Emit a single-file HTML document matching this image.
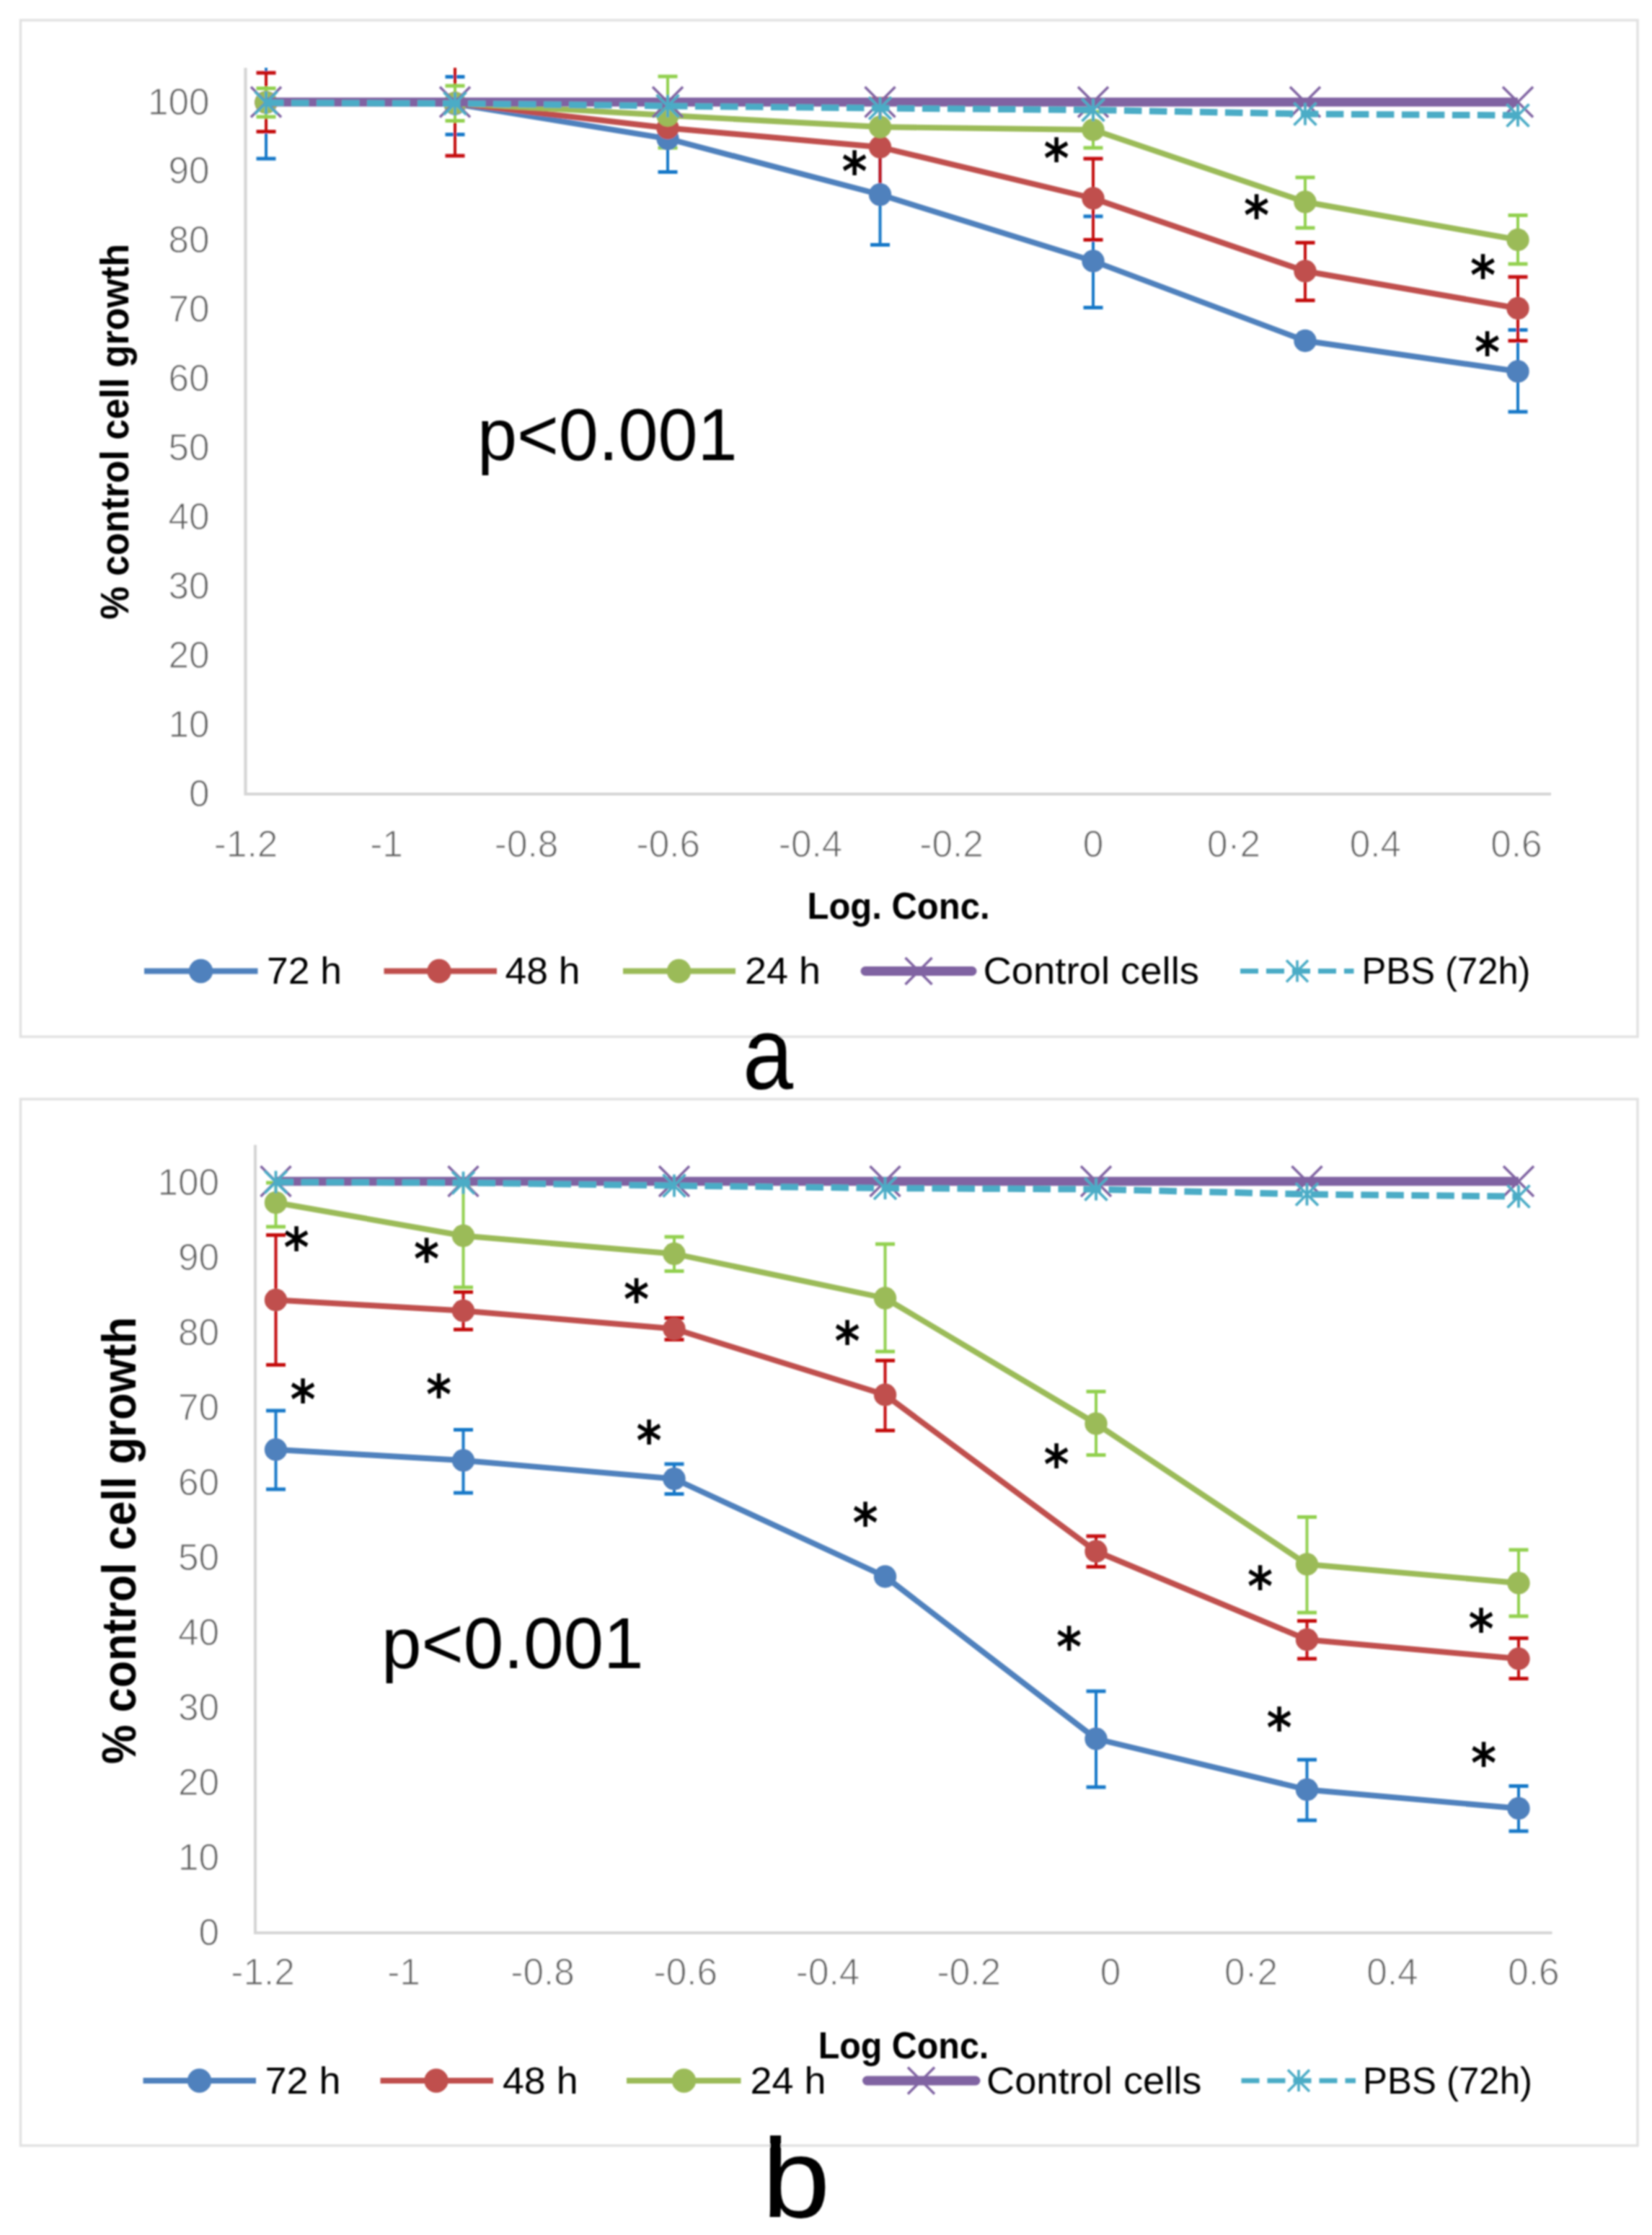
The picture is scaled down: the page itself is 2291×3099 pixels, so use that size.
<!DOCTYPE html>
<html><head><meta charset="utf-8"><title>Figure</title>
<style>html,body{margin:0;padding:0;background:#fff}svg{display:block}</style></head>
<body>
<svg width="2291" height="3099" viewBox="0 0 2291 3099">
<defs><filter id="softa" x="0" y="0" width="2291" height="1520" filterUnits="userSpaceOnUse"><feGaussianBlur stdDeviation="1"/></filter><filter id="softb" x="0" y="1520" width="2291" height="1579" filterUnits="userSpaceOnUse"><feGaussianBlur stdDeviation="1"/></filter></defs>
<rect width="2291" height="3099" fill="#fff"/>
<g id="chart-a" filter="url(#softa)">
<rect x="28.5" y="28" width="2242.5" height="1409.5" fill="none" stroke="#e2e2e2" stroke-width="3.5"/>
<path d="M340.5 94V1101H2151" fill="none" stroke="#d5d5d5" stroke-width="4.2"/>
<path d="M369 94V220" stroke="#1478c8" stroke-width="4" fill="none"/>
<path d="M355.5 220H382.5" stroke="#1478c8" stroke-width="5" fill="none"/>
<path d="M631 106.5V186.5" stroke="#1478c8" stroke-width="4" fill="none"/>
<path d="M617.5 106.5H644.5" stroke="#1478c8" stroke-width="5" fill="none"/>
<path d="M617.5 186.5H644.5" stroke="#1478c8" stroke-width="5" fill="none"/>
<path d="M926 147.5V238.5" stroke="#1478c8" stroke-width="4" fill="none"/>
<path d="M912.5 147.5H939.5" stroke="#1478c8" stroke-width="5" fill="none"/>
<path d="M912.5 238.5H939.5" stroke="#1478c8" stroke-width="5" fill="none"/>
<path d="M1220.5 201V339.5" stroke="#1478c8" stroke-width="4" fill="none"/>
<path d="M1207.0 201H1234.0" stroke="#1478c8" stroke-width="5" fill="none"/>
<path d="M1207.0 339.5H1234.0" stroke="#1478c8" stroke-width="5" fill="none"/>
<path d="M1516 300V426.5" stroke="#1478c8" stroke-width="4" fill="none"/>
<path d="M1502.5 300H1529.5" stroke="#1478c8" stroke-width="5" fill="none"/>
<path d="M1502.5 426.5H1529.5" stroke="#1478c8" stroke-width="5" fill="none"/>
<path d="M2105 457.5V571" stroke="#1478c8" stroke-width="4" fill="none"/>
<path d="M2091.5 457.5H2118.5" stroke="#1478c8" stroke-width="5" fill="none"/>
<path d="M2091.5 571H2118.5" stroke="#1478c8" stroke-width="5" fill="none"/>
<path d="M369 101V182.5" stroke="#c4080e" stroke-width="4" fill="none"/>
<path d="M355.5 101H382.5" stroke="#c4080e" stroke-width="5" fill="none"/>
<path d="M355.5 182.5H382.5" stroke="#c4080e" stroke-width="5" fill="none"/>
<path d="M631 94V216" stroke="#c4080e" stroke-width="4" fill="none"/>
<path d="M617.5 216H644.5" stroke="#c4080e" stroke-width="5" fill="none"/>
<path d="M1220.5 137V271" stroke="#c4080e" stroke-width="4" fill="none"/>
<path d="M1207.0 137H1234.0" stroke="#c4080e" stroke-width="5" fill="none"/>
<path d="M1207.0 271H1234.0" stroke="#c4080e" stroke-width="5" fill="none"/>
<path d="M1516 220V332.5" stroke="#c4080e" stroke-width="4" fill="none"/>
<path d="M1502.5 220H1529.5" stroke="#c4080e" stroke-width="5" fill="none"/>
<path d="M1502.5 332.5H1529.5" stroke="#c4080e" stroke-width="5" fill="none"/>
<path d="M1810 336.5V416.5" stroke="#c4080e" stroke-width="4" fill="none"/>
<path d="M1796.5 336.5H1823.5" stroke="#c4080e" stroke-width="5" fill="none"/>
<path d="M1796.5 416.5H1823.5" stroke="#c4080e" stroke-width="5" fill="none"/>
<path d="M2105 384V472.5" stroke="#c4080e" stroke-width="4" fill="none"/>
<path d="M2091.5 384H2118.5" stroke="#c4080e" stroke-width="5" fill="none"/>
<path d="M2091.5 472.5H2118.5" stroke="#c4080e" stroke-width="5" fill="none"/>
<path d="M369 122.5V162" stroke="#92d050" stroke-width="4" fill="none"/>
<path d="M355.5 122.5H382.5" stroke="#92d050" stroke-width="5" fill="none"/>
<path d="M355.5 162H382.5" stroke="#92d050" stroke-width="5" fill="none"/>
<path d="M631 119V167.5" stroke="#92d050" stroke-width="4" fill="none"/>
<path d="M617.5 119H644.5" stroke="#92d050" stroke-width="5" fill="none"/>
<path d="M617.5 167.5H644.5" stroke="#92d050" stroke-width="5" fill="none"/>
<path d="M926 106V205" stroke="#92d050" stroke-width="4" fill="none"/>
<path d="M912.5 106H939.5" stroke="#92d050" stroke-width="5" fill="none"/>
<path d="M912.5 205H939.5" stroke="#92d050" stroke-width="5" fill="none"/>
<path d="M1516 155V205" stroke="#92d050" stroke-width="4" fill="none"/>
<path d="M1502.5 155H1529.5" stroke="#92d050" stroke-width="5" fill="none"/>
<path d="M1502.5 205H1529.5" stroke="#92d050" stroke-width="5" fill="none"/>
<path d="M1810 246V316" stroke="#92d050" stroke-width="4" fill="none"/>
<path d="M1796.5 246H1823.5" stroke="#92d050" stroke-width="5" fill="none"/>
<path d="M1796.5 316H1823.5" stroke="#92d050" stroke-width="5" fill="none"/>
<path d="M2105 298.5V366" stroke="#92d050" stroke-width="4" fill="none"/>
<path d="M2091.5 298.5H2118.5" stroke="#92d050" stroke-width="5" fill="none"/>
<path d="M2091.5 366H2118.5" stroke="#92d050" stroke-width="5" fill="none"/>
<polyline points="369,142 631,144 926,192.3 1220.5,269.8 1516,362 1810,472.5 2105,515" fill="none" stroke="#4f81bd" stroke-width="7.9" stroke-linejoin="round" stroke-linecap="round"/>
<circle cx="369" cy="142" r="15.7" fill="#4f81bd"/>
<circle cx="631" cy="144" r="15.7" fill="#4f81bd"/>
<circle cx="926" cy="192.3" r="15.7" fill="#4f81bd"/>
<circle cx="1220.5" cy="269.8" r="15.7" fill="#4f81bd"/>
<circle cx="1516" cy="362" r="15.7" fill="#4f81bd"/>
<circle cx="1810" cy="472.5" r="15.7" fill="#4f81bd"/>
<circle cx="2105" cy="515" r="15.7" fill="#4f81bd"/>
<polyline points="369,142 631,143 926,177.5 1220.5,204 1516,275 1810,376 2105,427.5" fill="none" stroke="#c0504d" stroke-width="7.9" stroke-linejoin="round" stroke-linecap="round"/>
<circle cx="369" cy="142" r="15.7" fill="#c0504d"/>
<circle cx="631" cy="143" r="15.7" fill="#c0504d"/>
<circle cx="926" cy="177.5" r="15.7" fill="#c0504d"/>
<circle cx="1220.5" cy="204" r="15.7" fill="#c0504d"/>
<circle cx="1516" cy="275" r="15.7" fill="#c0504d"/>
<circle cx="1810" cy="376" r="15.7" fill="#c0504d"/>
<circle cx="2105" cy="427.5" r="15.7" fill="#c0504d"/>
<polyline points="369,142 631,143 926,160 1220.5,176 1516,180 1810,280 2105,332.5" fill="none" stroke="#9bbb59" stroke-width="7.9" stroke-linejoin="round" stroke-linecap="round"/>
<circle cx="369" cy="142" r="15.7" fill="#9bbb59"/>
<circle cx="631" cy="143" r="15.7" fill="#9bbb59"/>
<circle cx="926" cy="160" r="15.7" fill="#9bbb59"/>
<circle cx="1220.5" cy="176" r="15.7" fill="#9bbb59"/>
<circle cx="1516" cy="180" r="15.7" fill="#9bbb59"/>
<circle cx="1810" cy="280" r="15.7" fill="#9bbb59"/>
<circle cx="2105" cy="332.5" r="15.7" fill="#9bbb59"/>
<path d="M369 141.5H2105" stroke="#8064a2" stroke-width="12.5" fill="none"/>
<path d="M348 120.5L390 162.5M348 162.5L390 120.5" stroke="#8064a2" stroke-width="3.5" fill="none"/>
<path d="M610 120.5L652 162.5M610 162.5L652 120.5" stroke="#8064a2" stroke-width="3.5" fill="none"/>
<path d="M905 120.5L947 162.5M905 162.5L947 120.5" stroke="#8064a2" stroke-width="3.5" fill="none"/>
<path d="M1199.5 120.5L1241.5 162.5M1199.5 162.5L1241.5 120.5" stroke="#8064a2" stroke-width="3.5" fill="none"/>
<path d="M1495 120.5L1537 162.5M1495 162.5L1537 120.5" stroke="#8064a2" stroke-width="3.5" fill="none"/>
<path d="M1789 120.5L1831 162.5M1789 162.5L1831 120.5" stroke="#8064a2" stroke-width="3.5" fill="none"/>
<path d="M2084 120.5L2126 162.5M2084 162.5L2126 120.5" stroke="#8064a2" stroke-width="3.5" fill="none"/>
<polyline points="369,142.5 631,143.5 926,147 1220.5,150 1516,152.5 1810,158 2105,160" fill="none" stroke="#4bacc6" stroke-width="9" stroke-dasharray="24.5 10.5"/>
<path d="M353.5 127.0L384.5 158.0M353.5 158.0L384.5 127.0M369 127.0V158.0" stroke="#4bacc6" stroke-width="3.8" fill="none"/>
<path d="M615.5 128.0L646.5 159.0M615.5 159.0L646.5 128.0M631 128.0V159.0" stroke="#4bacc6" stroke-width="3.8" fill="none"/>
<path d="M910.5 131.5L941.5 162.5M910.5 162.5L941.5 131.5M926 131.5V162.5" stroke="#4bacc6" stroke-width="3.8" fill="none"/>
<path d="M1205.0 134.5L1236.0 165.5M1205.0 165.5L1236.0 134.5M1220.5 134.5V165.5" stroke="#4bacc6" stroke-width="3.8" fill="none"/>
<path d="M1500.5 137.0L1531.5 168.0M1500.5 168.0L1531.5 137.0M1516 137.0V168.0" stroke="#4bacc6" stroke-width="3.8" fill="none"/>
<path d="M1794.5 142.5L1825.5 173.5M1794.5 173.5L1825.5 142.5M1810 142.5V173.5" stroke="#4bacc6" stroke-width="3.8" fill="none"/>
<path d="M2089.5 144.5L2120.5 175.5M2089.5 175.5L2120.5 144.5M2105 144.5V175.5" stroke="#4bacc6" stroke-width="3.8" fill="none"/>
<text x="290.5" y="1117.5" font-family="'Liberation Sans', sans-serif" font-size="51.3" font-weight="normal" fill="#626262" text-anchor="end" stroke="#fff" stroke-width="0.9">0</text>
<text x="290.5" y="1021.6" font-family="'Liberation Sans', sans-serif" font-size="51.3" font-weight="normal" fill="#626262" text-anchor="end" stroke="#fff" stroke-width="0.9">10</text>
<text x="290.5" y="925.7" font-family="'Liberation Sans', sans-serif" font-size="51.3" font-weight="normal" fill="#626262" text-anchor="end" stroke="#fff" stroke-width="0.9">20</text>
<text x="290.5" y="829.8" font-family="'Liberation Sans', sans-serif" font-size="51.3" font-weight="normal" fill="#626262" text-anchor="end" stroke="#fff" stroke-width="0.9">30</text>
<text x="290.5" y="733.9" font-family="'Liberation Sans', sans-serif" font-size="51.3" font-weight="normal" fill="#626262" text-anchor="end" stroke="#fff" stroke-width="0.9">40</text>
<text x="290.5" y="638.0" font-family="'Liberation Sans', sans-serif" font-size="51.3" font-weight="normal" fill="#626262" text-anchor="end" stroke="#fff" stroke-width="0.9">50</text>
<text x="290.5" y="542.0999999999999" font-family="'Liberation Sans', sans-serif" font-size="51.3" font-weight="normal" fill="#626262" text-anchor="end" stroke="#fff" stroke-width="0.9">60</text>
<text x="290.5" y="446.19999999999993" font-family="'Liberation Sans', sans-serif" font-size="51.3" font-weight="normal" fill="#626262" text-anchor="end" stroke="#fff" stroke-width="0.9">70</text>
<text x="290.5" y="350.29999999999995" font-family="'Liberation Sans', sans-serif" font-size="51.3" font-weight="normal" fill="#626262" text-anchor="end" stroke="#fff" stroke-width="0.9">80</text>
<text x="290.5" y="254.39999999999998" font-family="'Liberation Sans', sans-serif" font-size="51.3" font-weight="normal" fill="#626262" text-anchor="end" stroke="#fff" stroke-width="0.9">90</text>
<text x="290.5" y="158.5" font-family="'Liberation Sans', sans-serif" font-size="51.3" font-weight="normal" fill="#626262" text-anchor="end" stroke="#fff" stroke-width="0.9">100</text>
<text x="341" y="1188" font-family="'Liberation Sans', sans-serif" font-size="51.3" font-weight="normal" fill="#626262" text-anchor="middle" stroke="#fff" stroke-width="0.9">-1.2</text>
<text x="536" y="1188" font-family="'Liberation Sans', sans-serif" font-size="51.3" font-weight="normal" fill="#626262" text-anchor="middle" stroke="#fff" stroke-width="0.9">-1</text>
<text x="730" y="1188" font-family="'Liberation Sans', sans-serif" font-size="51.3" font-weight="normal" fill="#626262" text-anchor="middle" stroke="#fff" stroke-width="0.9">-0.8</text>
<text x="926.75" y="1188" font-family="'Liberation Sans', sans-serif" font-size="51.3" font-weight="normal" fill="#626262" text-anchor="middle" stroke="#fff" stroke-width="0.9">-0.6</text>
<text x="1124" y="1188" font-family="'Liberation Sans', sans-serif" font-size="51.3" font-weight="normal" fill="#626262" text-anchor="middle" stroke="#fff" stroke-width="0.9">-0.4</text>
<text x="1319.5" y="1188" font-family="'Liberation Sans', sans-serif" font-size="51.3" font-weight="normal" fill="#626262" text-anchor="middle" stroke="#fff" stroke-width="0.9">-0.2</text>
<text x="1516" y="1188" font-family="'Liberation Sans', sans-serif" font-size="51.3" font-weight="normal" fill="#626262" text-anchor="middle" stroke="#fff" stroke-width="0.9">0</text>
<text x="1711" y="1188" font-family="'Liberation Sans', sans-serif" font-size="51.3" font-weight="normal" fill="#626262" text-anchor="middle" stroke="#fff" stroke-width="0.9">0·2</text>
<text x="1907.5" y="1188" font-family="'Liberation Sans', sans-serif" font-size="51.3" font-weight="normal" fill="#626262" text-anchor="middle" stroke="#fff" stroke-width="0.9">0.4</text>
<text x="2103" y="1188" font-family="'Liberation Sans', sans-serif" font-size="51.3" font-weight="normal" fill="#626262" text-anchor="middle" stroke="#fff" stroke-width="0.9">0.6</text>
<text x="1246" y="1274" font-family="'Liberation Sans', sans-serif" font-size="51.5" font-weight="bold" fill="#000" text-anchor="middle" textLength="253" lengthAdjust="spacingAndGlyphs">Log. Conc.</text>
<text transform="translate(177.5 598.5) rotate(-90)" font-family="'Liberation Sans', sans-serif" font-size="56" font-weight="bold" text-anchor="middle" textLength="521" lengthAdjust="spacingAndGlyphs" fill="#000">% control cell growth</text>
<text x="662" y="637.5" font-family="'Liberation Sans', sans-serif" font-size="102" font-weight="normal" fill="#000" text-anchor="start" textLength="360.6" lengthAdjust="spacingAndGlyphs">p&lt;0.001</text>
<text transform="translate(1185 227) scale(1.05 1.16)" x="0" y="32" font-family="'DejaVu Sans', sans-serif" font-size="64" font-weight="bold" text-anchor="middle" fill="#000">*</text>
<text transform="translate(1465 208.5) scale(1.05 1.16)" x="0" y="32" font-family="'DejaVu Sans', sans-serif" font-size="64" font-weight="bold" text-anchor="middle" fill="#000">*</text>
<text transform="translate(1742.5 287.5) scale(1.05 1.16)" x="0" y="32" font-family="'DejaVu Sans', sans-serif" font-size="64" font-weight="bold" text-anchor="middle" fill="#000">*</text>
<text transform="translate(2056.5 371) scale(1.05 1.16)" x="0" y="32" font-family="'DejaVu Sans', sans-serif" font-size="64" font-weight="bold" text-anchor="middle" fill="#000">*</text>
<text transform="translate(2062.5 477.5) scale(1.05 1.16)" x="0" y="32" font-family="'DejaVu Sans', sans-serif" font-size="64" font-weight="bold" text-anchor="middle" fill="#000">*</text>
<path d="M200 1346.5H357.5" stroke="#4f81bd" stroke-width="8" fill="none"/>
<circle cx="278.5" cy="1346.5" r="16.7" fill="#4f81bd"/>
<text x="370" y="1364" font-family="'Liberation Sans', sans-serif" font-size="51" font-weight="normal" fill="#000" text-anchor="start" textLength="104" lengthAdjust="spacingAndGlyphs">72 h</text>
<path d="M532.5 1346.5H689" stroke="#c0504d" stroke-width="8" fill="none"/>
<circle cx="609" cy="1346.5" r="16.7" fill="#c0504d"/>
<text x="700.5" y="1364" font-family="'Liberation Sans', sans-serif" font-size="51" font-weight="normal" fill="#000" text-anchor="start" textLength="104" lengthAdjust="spacingAndGlyphs">48 h</text>
<path d="M864 1346.5H1020" stroke="#9bbb59" stroke-width="8" fill="none"/>
<circle cx="941.5" cy="1346.5" r="16.7" fill="#9bbb59"/>
<text x="1033" y="1364" font-family="'Liberation Sans', sans-serif" font-size="51" font-weight="normal" fill="#000" text-anchor="start" textLength="105" lengthAdjust="spacingAndGlyphs">24 h</text>
<path d="M1200 1346.5H1348" stroke="#8064a2" stroke-width="13" stroke-linecap="round" fill="none"/>
<path d="M1255.5 1328.0L1292.5 1365.0M1255.5 1365.0L1292.5 1328.0" stroke="#8064a2" stroke-width="3.5" fill="none"/>
<text x="1363.5" y="1364" font-family="'Liberation Sans', sans-serif" font-size="51" font-weight="normal" fill="#000" text-anchor="start" textLength="299.5" lengthAdjust="spacingAndGlyphs">Control cells</text>
<path d="M1720 1346.5H1877.5" stroke="#4bacc6" stroke-width="7" stroke-dasharray="25 11" fill="none"/>
<path d="M1784 1331.5L1814 1361.5M1784 1361.5L1814 1331.5M1799 1331.5V1361.5" stroke="#4bacc6" stroke-width="3.6" fill="none"/>
<text x="1888.5" y="1364" font-family="'Liberation Sans', sans-serif" font-size="51" font-weight="normal" fill="#000" text-anchor="start" textLength="234" lengthAdjust="spacingAndGlyphs">PBS (72h)</text>
<text x="1065" y="1510" font-family="'Liberation Sans', sans-serif" font-size="143" font-weight="normal" fill="#000" text-anchor="middle" textLength="70" lengthAdjust="spacingAndGlyphs">a</text>
</g>
<g id="chart-b" filter="url(#softb)">
<rect x="28.5" y="1524" width="2242.5" height="1451" fill="none" stroke="#e2e2e2" stroke-width="3.5"/>
<path d="M354 1587.5V2680H2152.5" fill="none" stroke="#d5d5d5" stroke-width="4.2"/>
<path d="M382.5 1956V2065" stroke="#1478c8" stroke-width="4" fill="none"/>
<path d="M369.0 1956H396.0" stroke="#1478c8" stroke-width="5" fill="none"/>
<path d="M369.0 2065H396.0" stroke="#1478c8" stroke-width="5" fill="none"/>
<path d="M642.5 1982.5V2070" stroke="#1478c8" stroke-width="4" fill="none"/>
<path d="M629.0 1982.5H656.0" stroke="#1478c8" stroke-width="5" fill="none"/>
<path d="M629.0 2070H656.0" stroke="#1478c8" stroke-width="5" fill="none"/>
<path d="M935 2030V2071.5" stroke="#1478c8" stroke-width="4" fill="none"/>
<path d="M921.5 2030H948.5" stroke="#1478c8" stroke-width="5" fill="none"/>
<path d="M921.5 2071.5H948.5" stroke="#1478c8" stroke-width="5" fill="none"/>
<path d="M1520 2345V2478" stroke="#1478c8" stroke-width="4" fill="none"/>
<path d="M1506.5 2345H1533.5" stroke="#1478c8" stroke-width="5" fill="none"/>
<path d="M1506.5 2478H1533.5" stroke="#1478c8" stroke-width="5" fill="none"/>
<path d="M1812.5 2440V2524" stroke="#1478c8" stroke-width="4" fill="none"/>
<path d="M1799.0 2440H1826.0" stroke="#1478c8" stroke-width="5" fill="none"/>
<path d="M1799.0 2524H1826.0" stroke="#1478c8" stroke-width="5" fill="none"/>
<path d="M2106 2476.5V2539" stroke="#1478c8" stroke-width="4" fill="none"/>
<path d="M2092.5 2476.5H2119.5" stroke="#1478c8" stroke-width="5" fill="none"/>
<path d="M2092.5 2539H2119.5" stroke="#1478c8" stroke-width="5" fill="none"/>
<path d="M382.5 1712.5V1892.5" stroke="#c4080e" stroke-width="4" fill="none"/>
<path d="M369.0 1712.5H396.0" stroke="#c4080e" stroke-width="5" fill="none"/>
<path d="M369.0 1892.5H396.0" stroke="#c4080e" stroke-width="5" fill="none"/>
<path d="M642.5 1791.5V1843.5" stroke="#c4080e" stroke-width="4" fill="none"/>
<path d="M629.0 1791.5H656.0" stroke="#c4080e" stroke-width="5" fill="none"/>
<path d="M629.0 1843.5H656.0" stroke="#c4080e" stroke-width="5" fill="none"/>
<path d="M935 1827.5V1857.5" stroke="#c4080e" stroke-width="4" fill="none"/>
<path d="M921.5 1827.5H948.5" stroke="#c4080e" stroke-width="5" fill="none"/>
<path d="M921.5 1857.5H948.5" stroke="#c4080e" stroke-width="5" fill="none"/>
<path d="M1227.5 1886.5V1983.5" stroke="#c4080e" stroke-width="4" fill="none"/>
<path d="M1214.0 1886.5H1241.0" stroke="#c4080e" stroke-width="5" fill="none"/>
<path d="M1214.0 1983.5H1241.0" stroke="#c4080e" stroke-width="5" fill="none"/>
<path d="M1520 2130V2172.5" stroke="#c4080e" stroke-width="4" fill="none"/>
<path d="M1506.5 2130H1533.5" stroke="#c4080e" stroke-width="5" fill="none"/>
<path d="M1506.5 2172.5H1533.5" stroke="#c4080e" stroke-width="5" fill="none"/>
<path d="M1812.5 2247.5V2300" stroke="#c4080e" stroke-width="4" fill="none"/>
<path d="M1799.0 2247.5H1826.0" stroke="#c4080e" stroke-width="5" fill="none"/>
<path d="M1799.0 2300H1826.0" stroke="#c4080e" stroke-width="5" fill="none"/>
<path d="M2106 2271.5V2327.5" stroke="#c4080e" stroke-width="4" fill="none"/>
<path d="M2092.5 2271.5H2119.5" stroke="#c4080e" stroke-width="5" fill="none"/>
<path d="M2092.5 2327.5H2119.5" stroke="#c4080e" stroke-width="5" fill="none"/>
<path d="M382.5 1640V1701" stroke="#92d050" stroke-width="4" fill="none"/>
<path d="M369.0 1640H396.0" stroke="#92d050" stroke-width="5" fill="none"/>
<path d="M369.0 1701H396.0" stroke="#92d050" stroke-width="5" fill="none"/>
<path d="M642.5 1642V1785" stroke="#92d050" stroke-width="4" fill="none"/>
<path d="M629.0 1642H656.0" stroke="#92d050" stroke-width="5" fill="none"/>
<path d="M629.0 1785H656.0" stroke="#92d050" stroke-width="5" fill="none"/>
<path d="M935 1715V1762.5" stroke="#92d050" stroke-width="4" fill="none"/>
<path d="M921.5 1715H948.5" stroke="#92d050" stroke-width="5" fill="none"/>
<path d="M921.5 1762.5H948.5" stroke="#92d050" stroke-width="5" fill="none"/>
<path d="M1227.5 1725V1874" stroke="#92d050" stroke-width="4" fill="none"/>
<path d="M1214.0 1725H1241.0" stroke="#92d050" stroke-width="5" fill="none"/>
<path d="M1214.0 1874H1241.0" stroke="#92d050" stroke-width="5" fill="none"/>
<path d="M1520 1929.5V2017.5" stroke="#92d050" stroke-width="4" fill="none"/>
<path d="M1506.5 1929.5H1533.5" stroke="#92d050" stroke-width="5" fill="none"/>
<path d="M1506.5 2017.5H1533.5" stroke="#92d050" stroke-width="5" fill="none"/>
<path d="M1812.5 2103.5V2236" stroke="#92d050" stroke-width="4" fill="none"/>
<path d="M1799.0 2103.5H1826.0" stroke="#92d050" stroke-width="5" fill="none"/>
<path d="M1799.0 2236H1826.0" stroke="#92d050" stroke-width="5" fill="none"/>
<path d="M2106 2149V2241" stroke="#92d050" stroke-width="4" fill="none"/>
<path d="M2092.5 2149H2119.5" stroke="#92d050" stroke-width="5" fill="none"/>
<path d="M2092.5 2241H2119.5" stroke="#92d050" stroke-width="5" fill="none"/>
<polyline points="382.5,2010 642.5,2025 935,2050.5 1227.5,2186 1520,2411 1812.5,2481.5 2106,2507.5" fill="none" stroke="#4f81bd" stroke-width="7.9" stroke-linejoin="round" stroke-linecap="round"/>
<circle cx="382.5" cy="2010" r="15.7" fill="#4f81bd"/>
<circle cx="642.5" cy="2025" r="15.7" fill="#4f81bd"/>
<circle cx="935" cy="2050.5" r="15.7" fill="#4f81bd"/>
<circle cx="1227.5" cy="2186" r="15.7" fill="#4f81bd"/>
<circle cx="1520" cy="2411" r="15.7" fill="#4f81bd"/>
<circle cx="1812.5" cy="2481.5" r="15.7" fill="#4f81bd"/>
<circle cx="2106" cy="2507.5" r="15.7" fill="#4f81bd"/>
<polyline points="382.5,1802.5 642.5,1817.5 935,1842.5 1227.5,1934 1520,2151 1812.5,2273.5 2106,2300" fill="none" stroke="#c0504d" stroke-width="7.9" stroke-linejoin="round" stroke-linecap="round"/>
<circle cx="382.5" cy="1802.5" r="15.7" fill="#c0504d"/>
<circle cx="642.5" cy="1817.5" r="15.7" fill="#c0504d"/>
<circle cx="935" cy="1842.5" r="15.7" fill="#c0504d"/>
<circle cx="1227.5" cy="1934" r="15.7" fill="#c0504d"/>
<circle cx="1520" cy="2151" r="15.7" fill="#c0504d"/>
<circle cx="1812.5" cy="2273.5" r="15.7" fill="#c0504d"/>
<circle cx="2106" cy="2300" r="15.7" fill="#c0504d"/>
<polyline points="382.5,1667.5 642.5,1713.5 935,1738.5 1227.5,1800 1520,1974 1812.5,2169 2106,2195" fill="none" stroke="#9bbb59" stroke-width="7.9" stroke-linejoin="round" stroke-linecap="round"/>
<circle cx="382.5" cy="1667.5" r="15.7" fill="#9bbb59"/>
<circle cx="642.5" cy="1713.5" r="15.7" fill="#9bbb59"/>
<circle cx="935" cy="1738.5" r="15.7" fill="#9bbb59"/>
<circle cx="1227.5" cy="1800" r="15.7" fill="#9bbb59"/>
<circle cx="1520" cy="1974" r="15.7" fill="#9bbb59"/>
<circle cx="1812.5" cy="2169" r="15.7" fill="#9bbb59"/>
<circle cx="2106" cy="2195" r="15.7" fill="#9bbb59"/>
<path d="M382.5 1638H2106" stroke="#8064a2" stroke-width="12.5" fill="none"/>
<path d="M361.5 1617L403.5 1659M361.5 1659L403.5 1617" stroke="#8064a2" stroke-width="3.5" fill="none"/>
<path d="M621.5 1617L663.5 1659M621.5 1659L663.5 1617" stroke="#8064a2" stroke-width="3.5" fill="none"/>
<path d="M914 1617L956 1659M914 1659L956 1617" stroke="#8064a2" stroke-width="3.5" fill="none"/>
<path d="M1206.5 1617L1248.5 1659M1206.5 1659L1248.5 1617" stroke="#8064a2" stroke-width="3.5" fill="none"/>
<path d="M1499 1617L1541 1659M1499 1659L1541 1617" stroke="#8064a2" stroke-width="3.5" fill="none"/>
<path d="M1791.5 1617L1833.5 1659M1791.5 1659L1833.5 1617" stroke="#8064a2" stroke-width="3.5" fill="none"/>
<path d="M2085 1617L2127 1659M2085 1659L2127 1617" stroke="#8064a2" stroke-width="3.5" fill="none"/>
<polyline points="382.5,1639 642.5,1640 935,1644 1227.5,1647.5 1520,1649 1812.5,1656 2106,1659" fill="none" stroke="#4bacc6" stroke-width="9" stroke-dasharray="24.5 10.5"/>
<path d="M367.0 1623.5L398.0 1654.5M367.0 1654.5L398.0 1623.5M382.5 1623.5V1654.5" stroke="#4bacc6" stroke-width="3.8" fill="none"/>
<path d="M627.0 1624.5L658.0 1655.5M627.0 1655.5L658.0 1624.5M642.5 1624.5V1655.5" stroke="#4bacc6" stroke-width="3.8" fill="none"/>
<path d="M919.5 1628.5L950.5 1659.5M919.5 1659.5L950.5 1628.5M935 1628.5V1659.5" stroke="#4bacc6" stroke-width="3.8" fill="none"/>
<path d="M1212.0 1632.0L1243.0 1663.0M1212.0 1663.0L1243.0 1632.0M1227.5 1632.0V1663.0" stroke="#4bacc6" stroke-width="3.8" fill="none"/>
<path d="M1504.5 1633.5L1535.5 1664.5M1504.5 1664.5L1535.5 1633.5M1520 1633.5V1664.5" stroke="#4bacc6" stroke-width="3.8" fill="none"/>
<path d="M1797.0 1640.5L1828.0 1671.5M1797.0 1671.5L1828.0 1640.5M1812.5 1640.5V1671.5" stroke="#4bacc6" stroke-width="3.8" fill="none"/>
<path d="M2090.5 1643.5L2121.5 1674.5M2090.5 1674.5L2121.5 1643.5M2106 1643.5V1674.5" stroke="#4bacc6" stroke-width="3.8" fill="none"/>
<text x="304" y="2696.5" font-family="'Liberation Sans', sans-serif" font-size="51.3" font-weight="normal" fill="#626262" text-anchor="end" stroke="#fff" stroke-width="0.9">0</text>
<text x="304" y="2592.5" font-family="'Liberation Sans', sans-serif" font-size="51.3" font-weight="normal" fill="#626262" text-anchor="end" stroke="#fff" stroke-width="0.9">10</text>
<text x="304" y="2488.5" font-family="'Liberation Sans', sans-serif" font-size="51.3" font-weight="normal" fill="#626262" text-anchor="end" stroke="#fff" stroke-width="0.9">20</text>
<text x="304" y="2384.5" font-family="'Liberation Sans', sans-serif" font-size="51.3" font-weight="normal" fill="#626262" text-anchor="end" stroke="#fff" stroke-width="0.9">30</text>
<text x="304" y="2280.5" font-family="'Liberation Sans', sans-serif" font-size="51.3" font-weight="normal" fill="#626262" text-anchor="end" stroke="#fff" stroke-width="0.9">40</text>
<text x="304" y="2176.5" font-family="'Liberation Sans', sans-serif" font-size="51.3" font-weight="normal" fill="#626262" text-anchor="end" stroke="#fff" stroke-width="0.9">50</text>
<text x="304" y="2072.5" font-family="'Liberation Sans', sans-serif" font-size="51.3" font-weight="normal" fill="#626262" text-anchor="end" stroke="#fff" stroke-width="0.9">60</text>
<text x="304" y="1968.5" font-family="'Liberation Sans', sans-serif" font-size="51.3" font-weight="normal" fill="#626262" text-anchor="end" stroke="#fff" stroke-width="0.9">70</text>
<text x="304" y="1864.5" font-family="'Liberation Sans', sans-serif" font-size="51.3" font-weight="normal" fill="#626262" text-anchor="end" stroke="#fff" stroke-width="0.9">80</text>
<text x="304" y="1760.5" font-family="'Liberation Sans', sans-serif" font-size="51.3" font-weight="normal" fill="#626262" text-anchor="end" stroke="#fff" stroke-width="0.9">90</text>
<text x="304" y="1656.5" font-family="'Liberation Sans', sans-serif" font-size="51.3" font-weight="normal" fill="#626262" text-anchor="end" stroke="#fff" stroke-width="0.9">100</text>
<text x="364.5" y="2751.5" font-family="'Liberation Sans', sans-serif" font-size="51.3" font-weight="normal" fill="#626262" text-anchor="middle" stroke="#fff" stroke-width="0.9">-1.2</text>
<text x="560" y="2751.5" font-family="'Liberation Sans', sans-serif" font-size="51.3" font-weight="normal" fill="#626262" text-anchor="middle" stroke="#fff" stroke-width="0.9">-1</text>
<text x="752.5" y="2751.5" font-family="'Liberation Sans', sans-serif" font-size="51.3" font-weight="normal" fill="#626262" text-anchor="middle" stroke="#fff" stroke-width="0.9">-0.8</text>
<text x="950.75" y="2751.5" font-family="'Liberation Sans', sans-serif" font-size="51.3" font-weight="normal" fill="#626262" text-anchor="middle" stroke="#fff" stroke-width="0.9">-0.6</text>
<text x="1148" y="2751.5" font-family="'Liberation Sans', sans-serif" font-size="51.3" font-weight="normal" fill="#626262" text-anchor="middle" stroke="#fff" stroke-width="0.9">-0.4</text>
<text x="1343.75" y="2751.5" font-family="'Liberation Sans', sans-serif" font-size="51.3" font-weight="normal" fill="#626262" text-anchor="middle" stroke="#fff" stroke-width="0.9">-0.2</text>
<text x="1540" y="2751.5" font-family="'Liberation Sans', sans-serif" font-size="51.3" font-weight="normal" fill="#626262" text-anchor="middle" stroke="#fff" stroke-width="0.9">0</text>
<text x="1735" y="2751.5" font-family="'Liberation Sans', sans-serif" font-size="51.3" font-weight="normal" fill="#626262" text-anchor="middle" stroke="#fff" stroke-width="0.9">0·2</text>
<text x="1931" y="2751.5" font-family="'Liberation Sans', sans-serif" font-size="51.3" font-weight="normal" fill="#626262" text-anchor="middle" stroke="#fff" stroke-width="0.9">0.4</text>
<text x="2127" y="2751.5" font-family="'Liberation Sans', sans-serif" font-size="51.3" font-weight="normal" fill="#626262" text-anchor="middle" stroke="#fff" stroke-width="0.9">0.6</text>
<text x="1253" y="2854" font-family="'Liberation Sans', sans-serif" font-size="51.5" font-weight="bold" fill="#000" text-anchor="middle" textLength="236.5" lengthAdjust="spacingAndGlyphs">Log Conc.</text>
<text transform="translate(187.5 2136) rotate(-90)" font-family="'Liberation Sans', sans-serif" font-size="67" font-weight="bold" text-anchor="middle" textLength="620" lengthAdjust="spacingAndGlyphs" fill="#000">% control cell growth</text>
<text x="529" y="2313" font-family="'Liberation Sans', sans-serif" font-size="101" font-weight="normal" fill="#000" text-anchor="start" textLength="363.5" lengthAdjust="spacingAndGlyphs">p&lt;0.001</text>
<text transform="translate(411 1719) scale(1.05 1.16)" x="0" y="32" font-family="'DejaVu Sans', sans-serif" font-size="64" font-weight="bold" text-anchor="middle" fill="#000">*</text>
<text transform="translate(591.5 1735) scale(1.05 1.16)" x="0" y="32" font-family="'DejaVu Sans', sans-serif" font-size="64" font-weight="bold" text-anchor="middle" fill="#000">*</text>
<text transform="translate(420 1930) scale(1.05 1.16)" x="0" y="32" font-family="'DejaVu Sans', sans-serif" font-size="64" font-weight="bold" text-anchor="middle" fill="#000">*</text>
<text transform="translate(608.5 1922.5) scale(1.05 1.16)" x="0" y="32" font-family="'DejaVu Sans', sans-serif" font-size="64" font-weight="bold" text-anchor="middle" fill="#000">*</text>
<text transform="translate(882.5 1791) scale(1.05 1.16)" x="0" y="32" font-family="'DejaVu Sans', sans-serif" font-size="64" font-weight="bold" text-anchor="middle" fill="#000">*</text>
<text transform="translate(900 1986.5) scale(1.05 1.16)" x="0" y="32" font-family="'DejaVu Sans', sans-serif" font-size="64" font-weight="bold" text-anchor="middle" fill="#000">*</text>
<text transform="translate(1175 1848.5) scale(1.05 1.16)" x="0" y="32" font-family="'DejaVu Sans', sans-serif" font-size="64" font-weight="bold" text-anchor="middle" fill="#000">*</text>
<text transform="translate(1200 2101) scale(1.05 1.16)" x="0" y="32" font-family="'DejaVu Sans', sans-serif" font-size="64" font-weight="bold" text-anchor="middle" fill="#000">*</text>
<text transform="translate(1465 2020) scale(1.05 1.16)" x="0" y="32" font-family="'DejaVu Sans', sans-serif" font-size="64" font-weight="bold" text-anchor="middle" fill="#000">*</text>
<text transform="translate(1482.5 2273) scale(1.05 1.16)" x="0" y="32" font-family="'DejaVu Sans', sans-serif" font-size="64" font-weight="bold" text-anchor="middle" fill="#000">*</text>
<text transform="translate(1747.5 2188.5) scale(1.05 1.16)" x="0" y="32" font-family="'DejaVu Sans', sans-serif" font-size="64" font-weight="bold" text-anchor="middle" fill="#000">*</text>
<text transform="translate(1774 2385) scale(1.05 1.16)" x="0" y="32" font-family="'DejaVu Sans', sans-serif" font-size="64" font-weight="bold" text-anchor="middle" fill="#000">*</text>
<text transform="translate(2054 2247.5) scale(1.05 1.16)" x="0" y="32" font-family="'DejaVu Sans', sans-serif" font-size="64" font-weight="bold" text-anchor="middle" fill="#000">*</text>
<text transform="translate(2057.5 2434) scale(1.05 1.16)" x="0" y="32" font-family="'DejaVu Sans', sans-serif" font-size="64" font-weight="bold" text-anchor="middle" fill="#000">*</text>
<path d="M198.5 2885H355" stroke="#4f81bd" stroke-width="8" fill="none"/>
<circle cx="276.5" cy="2885" r="16.7" fill="#4f81bd"/>
<text x="367.5" y="2902.5" font-family="'Liberation Sans', sans-serif" font-size="51" font-weight="normal" fill="#000" text-anchor="start" textLength="105" lengthAdjust="spacingAndGlyphs">72 h</text>
<path d="M527.5 2885H684" stroke="#c0504d" stroke-width="8" fill="none"/>
<circle cx="605" cy="2885" r="16.7" fill="#c0504d"/>
<text x="697" y="2902.5" font-family="'Liberation Sans', sans-serif" font-size="51" font-weight="normal" fill="#000" text-anchor="start" textLength="104.5" lengthAdjust="spacingAndGlyphs">48 h</text>
<path d="M869 2885H1027.5" stroke="#9bbb59" stroke-width="8" fill="none"/>
<circle cx="948.5" cy="2885" r="16.7" fill="#9bbb59"/>
<text x="1040.5" y="2902.5" font-family="'Liberation Sans', sans-serif" font-size="51" font-weight="normal" fill="#000" text-anchor="start" textLength="105" lengthAdjust="spacingAndGlyphs">24 h</text>
<path d="M1202.5 2885H1353" stroke="#8064a2" stroke-width="13" stroke-linecap="round" fill="none"/>
<path d="M1259.0 2866.5L1296.0 2903.5M1259.0 2903.5L1296.0 2866.5" stroke="#8064a2" stroke-width="3.5" fill="none"/>
<text x="1368" y="2902.5" font-family="'Liberation Sans', sans-serif" font-size="51" font-weight="normal" fill="#000" text-anchor="start" textLength="298.5" lengthAdjust="spacingAndGlyphs">Control cells</text>
<path d="M1721.5 2885H1880" stroke="#4bacc6" stroke-width="7" stroke-dasharray="25 11" fill="none"/>
<path d="M1786 2870L1816 2900M1786 2900L1816 2870M1801 2870V2900" stroke="#4bacc6" stroke-width="3.6" fill="none"/>
<text x="1890" y="2902.5" font-family="'Liberation Sans', sans-serif" font-size="51" font-weight="normal" fill="#000" text-anchor="start" textLength="235" lengthAdjust="spacingAndGlyphs">PBS (72h)</text>
<text x="1104" y="3074" font-family="'Liberation Sans', sans-serif" font-size="156" font-weight="normal" fill="#000" text-anchor="middle" textLength="95" lengthAdjust="spacingAndGlyphs">b</text>
</g>
</svg>
</body></html>
